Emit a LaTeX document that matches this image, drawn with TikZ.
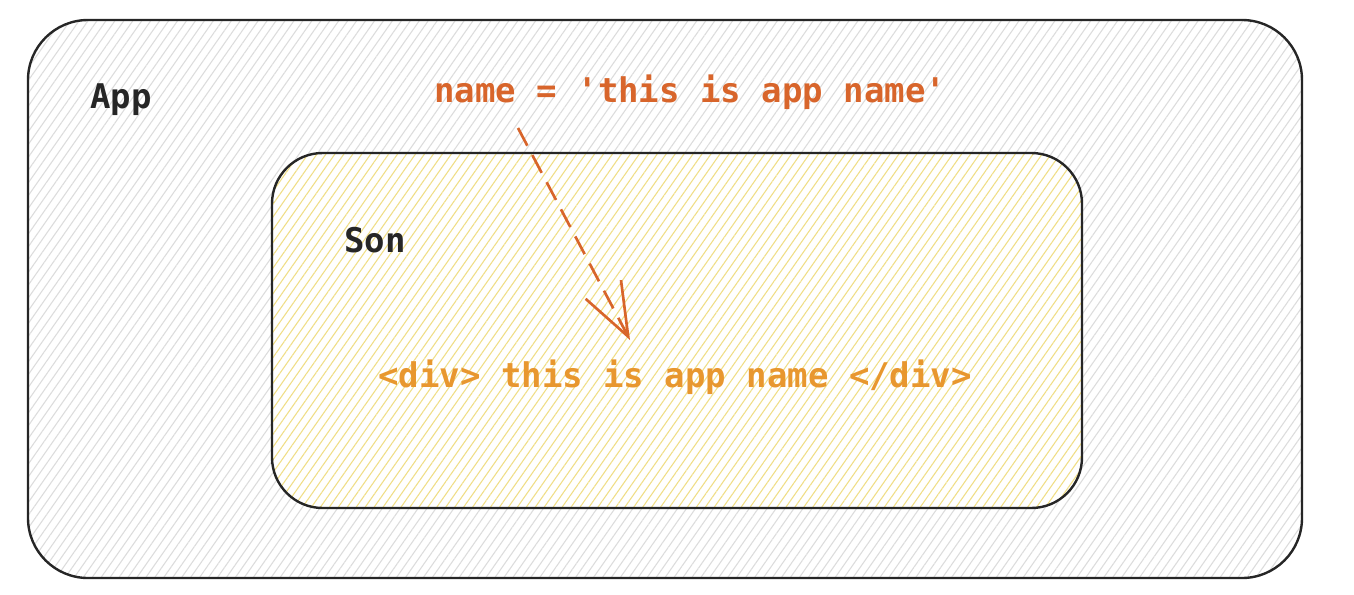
\documentclass[tikz,border=0pt]{standalone}
\usepackage{fontspec}
\setmonofont{DejaVu Sans Mono}
\usetikzlibrary{arrows.meta,patterns.meta}
\definecolor{nameorange}{HTML}{D8652B}
\definecolor{divorange}{HTML}{E8972F}
\definecolor{hatchgrey}{HTML}{DCDCDC}
\definecolor{hatchyellow}{HTML}{F0DE86}

\begin{document}
\begin{tikzpicture}[
                 x = 0.75pt,
                 y = -0.75pt,
         box/.style = {draw=black!85, line width=1.8pt, preaction={fill=white}},
    outerbox/.style = {box, rounded corners=45pt,
                       pattern={Lines[angle=55,distance=5.5pt,line width=0.8pt]}, pattern color=hatchgrey},
    innerbox/.style = {box, rounded corners=38pt,
                       pattern={Lines[angle=55,distance=5.5pt,line width=0.8pt]}, pattern color=hatchyellow},
        code/.style = {font=\ttfamily\bfseries\fontsize{25.5}{30}\selectfont, inner sep=0pt, anchor=base west},
       arrow/.style = {draw=nameorange, line width=2pt, dash pattern=on 15pt off 8pt,
                       -{Straight Barb[length=40pt,width=30pt]}},
                   ]
\useasboundingbox (0,0) rectangle (1354,594);
\draw[outerbox] (28,20) rectangle (1302,578);
\draw[innerbox] (272,153) rectangle (1082,508);
\node[code, text=black!85] (app) at (90,108) {App};
\node[code, text=black!85] (son) at (344,252) {Son};
\node[code, text=nameorange] (name) at (434,102) {name = 'this is app name'};
\node[code, text=divorange] (div) at (378,387) {<div> this is app name </div>};
%\draw arrow from value to output
\coordinate (tail) at (518,128);
\coordinate (tip) at (630,340);
\draw[arrow] (tail) -- (tip);
\end{tikzpicture}
\end{document}
